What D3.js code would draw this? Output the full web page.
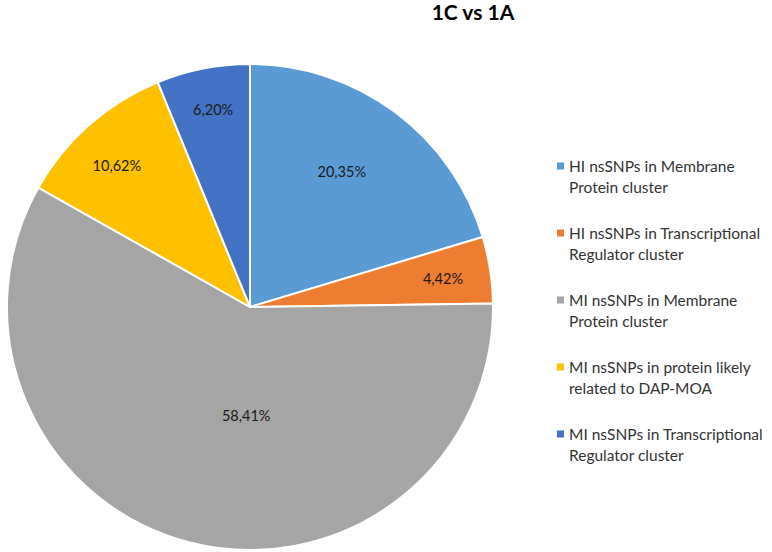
<!DOCTYPE html>
<html><head><meta charset="utf-8">
<script src="https://cdn.jsdelivr.net/npm/d3@7"></script>
<style>body{margin:0;background:#fff}</style>
</head><body>
<svg id="chart" width="772" height="552"></svg>
<script>
const categories = [
  "HI nsSNPs in Membrane Protein cluster",
  "HI nsSNPs in Transcriptional Regulator cluster",
  "MI nsSNPs in Membrane Protein cluster",
  "MI nsSNPs in protein likely related to DAP-MOA",
  "MI nsSNPs in Transcriptional Regulator cluster"
];
const values = [20.35, 4.42, 58.41, 10.62, 6.20];
const valueLabels = ["20,35%", "4,42%", "58,41%", "10,62%", "6,20%"];
const legendLines = [
  ["HI nsSNPs in Membrane", "Protein cluster"],
  ["HI nsSNPs in Transcriptional", "Regulator cluster"],
  ["MI nsSNPs in Membrane", "Protein cluster"],
  ["MI nsSNPs in protein likely", "related to DAP-MOA"],
  ["MI nsSNPs in Transcriptional", "Regulator cluster"]
];
const colors = ["#5B9BD5", "#ED7D31", "#A5A5A5", "#FFC000", "#4472C4"];
const title = "1C vs 1A";

// layout (label placement: distance from centre, angle shift in degrees)
const labelPlace = [[164, -2.6], [195, 0.5], [109, -12.3], [194, -1.9], [201, 0.6]];

const svg = d3.select("#chart");
const cx = 250, cy = 307, R = 243;
const font = "Lato, 'Open Sans', sans-serif";

svg.append("text").attr("x", 473).attr("y", 20).attr("text-anchor", "middle")
  .attr("font-family", font).attr("font-weight", "bold").attr("font-size", 21)
  .attr("fill", "#000").text(title);

const pie = d3.pie().sort(null).value(d => d)(values);
const arc = d3.arc().innerRadius(0).outerRadius(R);
const color = d3.scaleOrdinal().domain(categories).range(colors);

const g = svg.append("g").attr("transform", `translate(${cx},${cy})`);
g.selectAll("path").data(pie).join("path")
  .attr("d", arc)
  .attr("fill", (d, i) => color(categories[i]))
  .attr("stroke", "#fff").attr("stroke-width", 2).attr("stroke-linejoin", "round");

g.selectAll("text.lbl").data(pie).join("text").attr("class", "lbl")
  .attr("transform", (d, i) => {
    const a = (d.startAngle + d.endAngle) / 2 + labelPlace[i][1] * Math.PI / 180;
    const r = labelPlace[i][0];
    return `translate(${r * Math.sin(a)},${-r * Math.cos(a)})`;
  })
  .attr("text-anchor", "middle").attr("dominant-baseline", "central")
  .attr("font-family", font).attr("font-size", 14.5).attr("fill", "#1a1a1a")
  .text((d, i) => valueLabels[i]);

const leg = svg.append("g");
const items = leg.selectAll("g").data(categories).join("g")
  .attr("transform", (d, i) => `translate(557,${166 + i * 67})`);
items.append("rect").attr("x", 0).attr("y", -3.5).attr("width", 7).attr("height", 7)
  .attr("fill", d => color(d));
items.each(function(d, i) {
  const t = d3.select(this).append("text").attr("font-family", font).attr("font-size", 15.5)
    .attr("fill", "#333");
  legendLines[i].forEach((ln, j) => {
    t.append("tspan").attr("x", 12).attr("y", j * 21).attr("dominant-baseline", "central").text(ln);
  });
});
</script>
</body></html>
